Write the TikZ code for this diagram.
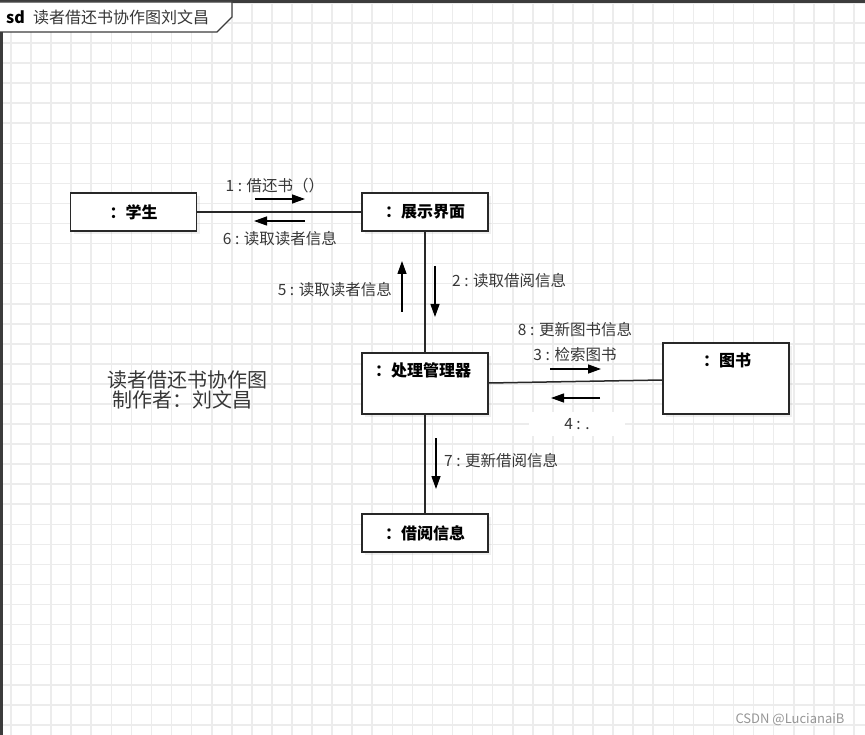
\documentclass[tikz,border=0pt]{standalone}
\usepackage{fontspec}
\setmainfont{Noto Sans CJK SC}
\usetikzlibrary{arrows.meta,shadows,calc}
\definecolor{gridc}{RGB}{236,236,236}
\definecolor{framec}{RGB}{60,60,60}
\definecolor{linec}{RGB}{40,40,40}
\definecolor{txtc}{RGB}{55,55,55}
\definecolor{wmc}{RGB}{150,150,150}
\tikzset{
  objbox/.style={draw=linec, line width=1.6pt, fill=white, inner sep=0pt,
    minimum width=126pt, font=\fontsize{16}{18}\selectfont\bfseries, text=black,
    drop shadow={shadow xshift=3pt, shadow yshift=-3pt, opacity=0.12}},
  objtxt/.style={font=\fontsize{16}{18}\selectfont\bfseries, text=black, inner sep=0pt},
  conn/.style={draw=linec, line width=1.5pt},
  msg/.style={draw=black, line width=1.3pt, -{Triangle[length=13pt,width=9pt]}},
  msglabel/.style={font=\fontsize{15.5}{18}\selectfont, text=txtc, inner sep=1pt},
  bigtxt/.style={font=\fontsize{20}{22}\selectfont, text=txtc, inner sep=0pt},
}
\begin{document}
\begin{tikzpicture}[x=1pt,y=-1pt]
\useasboundingbox (0,0) rectangle (865,735);
\fill[white] (0,0) rectangle (865,735);
% grid
\foreach \i in {0,...,42} \draw[gridc, line width=1.6pt] ({11+\i*20.07},0) -- ({11+\i*20.07},735);
\foreach \j in {0,...,36} \draw[gridc, line width=1.6pt] (0,{3+\j*20.05}) -- (865,{3+\j*20.05});
% outer frame (top and left)
\fill[framec] (0,0) rectangle (865,3);
\fill[framec] (0,0) rectangle (2.5,735);
% sd tab
\draw[framec, line width=1.3pt, fill=white] (0,2) -- (232,2) -- (232,17) -- (217,32) -- (0,32);
\node[font=\fontsize{16}{18}\selectfont\bfseries, anchor=west, inner sep=0pt] (sd) at (6,17) {sd};
\node[font=\fontsize{16}{18}\selectfont, text=txtc, anchor=west, inner sep=0pt] (title) at (33,17) {读者借还书协作图刘文昌};
% objects
\node[objbox, minimum height=38pt] (stu) at (133.5,212) {：学生};
\node[objbox, minimum height=38pt] (ui) at (425,212) {：展示界面};
\node[objbox, minimum height=61pt] (pm) at (425,383.5) {};
\node[objtxt] (pmt) at (423,370) {：处理管理器};
\node[objbox, minimum height=71pt] (book) at (726,378.5) {};
\node[objtxt] (bookt) at (727,360) {：图书};
\node[objbox, minimum height=38pt] (jy) at (425,533) {：借阅信息};
% connectors
\draw[conn] (stu.east) -- (ui.west);
\draw[conn] (ui.south) -- (pm.north);
\draw[conn] ($(pm.east)+(0,-0.5)$) -- ($(book.west)+(0,1.5)$);
\draw[conn] (pm.south) -- (jy.north);
% messages
\coordinate (a1s) at (255,199); \coordinate (a1e) at (305,199);
\draw[msg] (a1s) -- (a1e);
\node[msglabel] (l1) at (275,186) {1 : 借还书（）};
\coordinate (a6s) at (305,221); \coordinate (a6e) at (254,221);
\draw[msg] (a6s) -- (a6e);
\node[msglabel] (l6) at (280,239) {6 : 读取读者信息};
\coordinate (a5s) at (402,312); \coordinate (a5e) at (402,261);
\draw[msg] (a5s) -- (a5e);
\node[msglabel, anchor=east] (l5) at (393,290) {5 : 读取读者信息};
\coordinate (a2s) at (435,266); \coordinate (a2e) at (435,317);
\draw[msg] (a2s) -- (a2e);
\node[msglabel, anchor=west] (l2) at (451,281) {2 : 读取借阅信息};
\node[msglabel] (l8) at (575,330) {8 : 更新图书信息};
\node[msglabel] (l3) at (575,355) {3 : 检索图书};
\coordinate (a3s) at (550,369); \coordinate (a3e) at (601,369);
\draw[msg] (a3s) -- (a3e);
\coordinate (a4s) at (600,398); \coordinate (a4e) at (551,398);
\draw[msg] (a4s) -- (a4e);
\node[msglabel, fill=white, minimum width=96pt, minimum height=24pt] (l4) at (577,424) {4 : .};
\coordinate (a7s) at (436,438); \coordinate (a7e) at (436,489);
\draw[msg] (a7s) -- (a7e);
\node[msglabel, anchor=west] (l7) at (443,461) {7 : 更新借阅信息};
% free text
\node[bigtxt] (big1) at (187,380) {读者借还书协作图};
\node[bigtxt] (big2) at (182,400) {制作者：刘文昌};
% watermark
\node[font=\fontsize{13}{15}\selectfont, text=wmc, inner sep=0pt] (wm) at (790,720) {CSDN @LucianaiB};
\end{tikzpicture}
\end{document}
